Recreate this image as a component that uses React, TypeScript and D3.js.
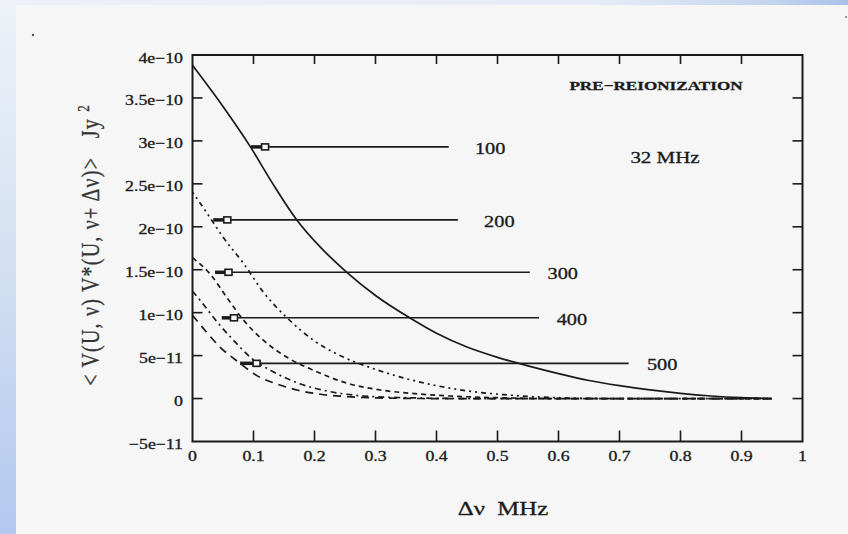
import React from "react";
import * as d3 from "d3";

// ---- data (y values in units of 1e-10 Jy^2) ----
const xTicks = [0, 0.1, 0.2, 0.3, 0.4, 0.5, 0.6, 0.7, 0.8, 0.9, 1];
const xTickLabels = ["0", "0.1", "0.2", "0.3", "0.4", "0.5", "0.6", "0.7", "0.8", "0.9", "1"];
const yTicks = [4, 3.5, 3, 2.5, 2, 1.5, 1, 0.5, 0, -0.5];
const yTickLabels = ["4e\u221210", "3.5e\u221210", "3e\u221210", "2.5e\u221210", "2e\u221210", "1.5e\u221210", "1e\u221210", "5e\u221211", "0", "\u22125e\u221211"];

const c100x = [0, 0.05, 0.095, 0.13, 0.171, 0.21, 0.253, 0.3, 0.356, 0.4, 0.45, 0.5, 0.55, 0.6, 0.65, 0.7, 0.75, 0.8, 0.85, 0.9, 0.95];
const c100y = [3.88, 3.4, 2.93, 2.52, 2.08, 1.76, 1.47, 1.2, 0.94, 0.76, 0.6, 0.48, 0.38, 0.29, 0.21, 0.15, 0.1, 0.06, 0.03, 0.01, 0];
const c200x = [0, 0.015, 0.032, 0.05, 0.084, 0.116, 0.155, 0.198, 0.248, 0.3, 0.346, 0.4, 0.45, 0.51, 0.55, 0.6, 0.7, 0.95];
const c200y = [2.4, 2.25, 2.07, 1.88, 1.57, 1.24, 0.94, 0.68, 0.48, 0.34, 0.24, 0.15, 0.09, 0.045, 0.025, 0.01, 0, 0];
const c300x = [0, 0.029, 0.056, 0.084, 0.116, 0.155, 0.198, 0.253, 0.308, 0.36, 0.42, 0.5, 0.6, 0.95];
const c300y = [1.64, 1.45, 1.18, 0.91, 0.68, 0.48, 0.33, 0.18, 0.1, 0.06, 0.03, 0.01, 0, 0];
const c400x = [0, 0.013, 0.043, 0.067, 0.095, 0.133, 0.177, 0.226, 0.28, 0.35, 0.45, 0.95];
const c400y = [1.25, 1.14, 0.87, 0.68, 0.48, 0.31, 0.17, 0.08, 0.03, 0.01, 0, 0];
const c500x = [0, 0.021, 0.045, 0.078, 0.105, 0.138, 0.171, 0.21, 0.26, 0.32, 0.4, 0.95];
const c500y = [0.97, 0.79, 0.6, 0.41, 0.27, 0.17, 0.1, 0.05, 0.02, 0.005, 0, 0];

const barLabels = ["100", "200", "300", "400", "500"];
const barY = [2.93, 2.08, 1.47, 0.94, 0.41];
const barStart = [0.096, 0.034, 0.037, 0.048, 0.078];
const barMark = [0.119, 0.057, 0.059, 0.068, 0.105];
const barEnd = [0.42, 0.435, 0.553, 0.568, 0.715];
const barLabelX = [0.463, 0.478, 0.582, 0.597, 0.745];

const curves = [
  { xs: c100x, ys: c100y, dash: "" },
  { xs: c200x, ys: c200y, dash: "2,4,2,4,5,4" },
  { xs: c300x, ys: c300y, dash: "5,4" },
  { xs: c400x, ys: c400y, dash: "6,4,2,4" },
  { xs: c500x, ys: c500y, dash: "8,6" },
];

const W = 848, H = 534;
const L = 192.5, R = 802.5, T = 55, B = 441.5;
const SX = 1.27;
const FONT = "'Liberation Serif', 'Times New Roman', serif";
const INK = "#1a1a1a";

export default function App() {
  const x = d3.scaleLinear().domain([0, 1]).range([L, R]);
  const y = d3.scaleLinear().domain([-0.5, 4]).range([B, T]);
  const line = d3.line<[number, number]>().x((d) => x(d[0])).y((d) => y(d[1])).curve(d3.curveMonotoneX);

  const sText = (tx: number, ty: number, s: string, size: number, anchor: string, extra: any = {}) => (
    <text
      transform={`translate(${tx},${ty}) scale(${SX},1)`}
      fontSize={size}
      textAnchor={anchor}
      fontFamily={FONT}
      fill={INK}
      stroke={INK}
      strokeWidth={0.3}
      {...extra}
    >
      {s}
    </text>
  );

  return (
    <svg width={W} height={H} style={{ position: "absolute", left: 0, top: 0 }}>
      <defs>
        <linearGradient id="leftg" x1="0" y1="0" x2="0" y2="1">
          <stop offset="0" stopColor="#eef2f8" />
          <stop offset="0.5" stopColor="#d3e0f2" />
          <stop offset="1" stopColor="#b2c8ee" />
        </linearGradient>
        <linearGradient id="topg" x1="0" y1="0" x2="1" y2="0">
          <stop offset="0" stopColor="#edf1f7" />
          <stop offset="0.7" stopColor="#e6ecf6" />
          <stop offset="0.9" stopColor="#c6d6ee" />
          <stop offset="1" stopColor="#a9c0ea" />
        </linearGradient>
      </defs>
      <rect x={0} y={0} width={W} height={H} fill="#f6f6f6" />
      <rect x={0} y={0} width={W} height={5} fill="url(#topg)" />
      <rect x={0} y={0} width={16} height={H} fill="url(#leftg)" />
      <circle cx={33} cy={35} r={1.2} fill="#555" />
      <circle cx={846} cy={17} r={1} fill="#777" />

      {/* frame */}
      <rect x={L} y={T} width={R - L} height={B - T} fill="none" stroke={INK} strokeWidth={2} />

      {/* x ticks */}
      {xTicks.slice(1, -1).map((t, i) => (
        <g key={"xt" + i}>
          <line x1={x(t)} x2={x(t)} y1={B} y2={B - 11} stroke={INK} strokeWidth={1.6} />
          <line x1={x(t)} x2={x(t)} y1={T} y2={T + 9} stroke={INK} strokeWidth={1.6} />
        </g>
      ))}
      {xTicks.map((t, i) => (
        <g key={"xl" + i}>{sText(x(t), 461, xTickLabels[i], 14, "middle")}</g>
      ))}

      {/* y ticks */}
      {yTicks.slice(1, -1).map((t, i) => (
        <g key={"yt" + i}>
          <line x1={L} x2={L + 10} y1={y(t)} y2={y(t)} stroke={INK} strokeWidth={1.6} />
          <line x1={R} x2={R - 10} y1={y(t)} y2={y(t)} stroke={INK} strokeWidth={1.6} />
        </g>
      ))}
      {yTicks.map((t, i) => (
        <g key={"yl" + i}>{sText(183, y(t) + 7.5, yTickLabels[i], 14, "end")}</g>
      ))}

      {/* curves */}
      {curves.map((c, i) => (
        <path
          key={"c" + i}
          d={line(c.xs.map((v, j) => [v, c.ys[j]] as [number, number])) || ""}
          fill="none"
          stroke={INK}
          strokeWidth={1.7}
          strokeDasharray={c.dash || undefined}
        />
      ))}

      {/* horizontal bars */}
      {barLabels.map((lab, i) => (
        <g key={"b" + i}>
          <line x1={x(barStart[i])} x2={x(barMark[i])} y1={y(barY[i])} y2={y(barY[i])} stroke={INK} strokeWidth={3.5} />
          <line x1={x(barMark[i])} x2={x(barEnd[i])} y1={y(barY[i])} y2={y(barY[i])} stroke={INK} strokeWidth={1.6} />
          <rect x={x(barMark[i]) - 3.5} y={y(barY[i]) - 3} width={7} height={6} fill="#f6f6f6" stroke={INK} strokeWidth={1.6} />
          {sText(x(barLabelX[i]), y(barY[i]) + 7, lab, 16, "start")}
        </g>
      ))}

      {/* annotations */}
      {sText(656, 90, "PRE\u2212REIONIZATION", 13.5, "middle", { fontWeight: "bold" })}
      {sText(665, 163, "32 MHz", 16.5, "middle")}

      {/* axis titles */}
      {sText(503, 515, "\u0394\u03bd  MHz", 19.5, "middle", { style: { whiteSpace: "pre" } })}
      <text
        transform={`translate(99,245) scale(${SX},1) rotate(-90)`}
        fontSize={20}
        letterSpacing={1.2}
        textAnchor="middle"
        fontFamily={FONT}
        fill="#333"
        stroke="#333"
        strokeWidth={0.25}
        style={{ whiteSpace: "pre" }}
      >
        {"< V(U, \u03bd) V*(U, \u03bd+ \u0394\u03bd)>   Jy "}
        <tspan fontSize={13} dy={-8}>2</tspan>
      </text>
    </svg>
  );
}
